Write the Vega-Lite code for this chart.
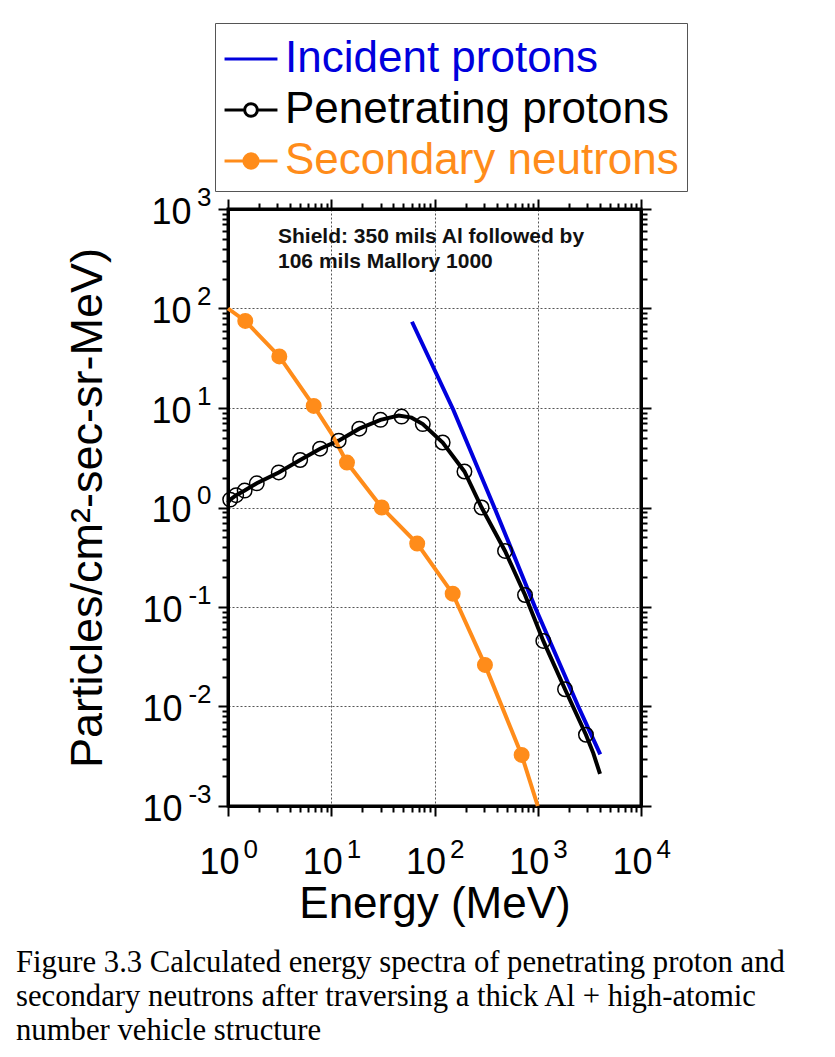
{
  "$schema": "https://vega.github.io/schema/vega-lite/v6.json",
  "width": 413,
  "height": 597,
  "padding": {"left": 16, "top": 22, "right": 10, "bottom": 10},
  "background": "white",
  "config": {
    "view": {"stroke": "black", "strokeWidth": 3},
    "font": "Liberation Sans",
    "axis": {
      "domainColor": "black",
      "domainWidth": 3,
      "tickColor": "black",
      "tickWidth": 2,
      "labelColor": "black",
      "titleColor": "black",
      "labelFont": "Liberation Sans",
      "titleFont": "Liberation Sans",
      "titleFontWeight": "normal",
      "labelFlush": false,
      "labelBound": false,
      "labelOverlap": false
    }
  },
  "datasets": {
    "curves": [
      {"series": "Incident protons", "energy": 60.5, "flux": 73.6},
      {"series": "Incident protons", "energy": 152, "flux": 9.6},
      {"series": "Incident protons", "energy": 380, "flux": 1.0},
      {"series": "Incident protons", "energy": 940, "flux": 0.1},
      {"series": "Incident protons", "energy": 2470, "flux": 0.01},
      {"series": "Incident protons", "energy": 4030, "flux": 0.0033},
      {"series": "Penetrating protons", "energy": 1.0, "flux": 1.12},
      {"series": "Penetrating protons", "energy": 1.05, "flux": 1.2},
      {"series": "Penetrating protons", "energy": 1.2, "flux": 1.33},
      {"series": "Penetrating protons", "energy": 1.45, "flux": 1.48},
      {"series": "Penetrating protons", "energy": 1.9, "flux": 1.75},
      {"series": "Penetrating protons", "energy": 3.1, "flux": 2.25},
      {"series": "Penetrating protons", "energy": 5.0, "flux": 3.0},
      {"series": "Penetrating protons", "energy": 7.8, "flux": 3.9},
      {"series": "Penetrating protons", "energy": 11.8, "flux": 4.7},
      {"series": "Penetrating protons", "energy": 18.7, "flux": 6.2},
      {"series": "Penetrating protons", "energy": 30, "flux": 7.6},
      {"series": "Penetrating protons", "energy": 45, "flux": 8.4},
      {"series": "Penetrating protons", "energy": 60, "flux": 8.0},
      {"series": "Penetrating protons", "energy": 77, "flux": 6.9},
      {"series": "Penetrating protons", "energy": 120, "flux": 4.5},
      {"series": "Penetrating protons", "energy": 195, "flux": 2.3},
      {"series": "Penetrating protons", "energy": 286, "flux": 1.0},
      {"series": "Penetrating protons", "energy": 482, "flux": 0.366},
      {"series": "Penetrating protons", "energy": 753, "flux": 0.132},
      {"series": "Penetrating protons", "energy": 1132, "flux": 0.0456},
      {"series": "Penetrating protons", "energy": 1837, "flux": 0.0149},
      {"series": "Penetrating protons", "energy": 2930, "flux": 0.0052},
      {"series": "Penetrating protons", "energy": 3450, "flux": 0.0034},
      {"series": "Penetrating protons", "energy": 4010, "flux": 0.0021},
      {"series": "Secondary neutrons", "energy": 1.0, "flux": 100},
      {"series": "Secondary neutrons", "energy": 1.47, "flux": 75},
      {"series": "Secondary neutrons", "energy": 3.14, "flux": 33},
      {"series": "Secondary neutrons", "energy": 6.76, "flux": 10.5},
      {"series": "Secondary neutrons", "energy": 10, "flux": 5.6},
      {"series": "Secondary neutrons", "energy": 14.2, "flux": 2.83},
      {"series": "Secondary neutrons", "energy": 30.8, "flux": 1.0},
      {"series": "Secondary neutrons", "energy": 68, "flux": 0.434},
      {"series": "Secondary neutrons", "energy": 150, "flux": 0.136},
      {"series": "Secondary neutrons", "energy": 308, "flux": 0.0262},
      {"series": "Secondary neutrons", "energy": 698, "flux": 0.00326},
      {"series": "Secondary neutrons", "energy": 1000, "flux": 0.001}
    ],
    "markers": [
      {"series": "Penetrating protons", "energy": 1.05, "flux": 1.2},
      {"series": "Penetrating protons", "energy": 1.2, "flux": 1.33},
      {"series": "Penetrating protons", "energy": 1.45, "flux": 1.48},
      {"series": "Penetrating protons", "energy": 1.9, "flux": 1.75},
      {"series": "Penetrating protons", "energy": 3.1, "flux": 2.25},
      {"series": "Penetrating protons", "energy": 5.0, "flux": 3.0},
      {"series": "Penetrating protons", "energy": 7.8, "flux": 3.9},
      {"series": "Penetrating protons", "energy": 11.8, "flux": 4.7},
      {"series": "Penetrating protons", "energy": 18.7, "flux": 6.2},
      {"series": "Penetrating protons", "energy": 30, "flux": 7.6},
      {"series": "Penetrating protons", "energy": 48, "flux": 8.2},
      {"series": "Penetrating protons", "energy": 77, "flux": 6.9},
      {"series": "Penetrating protons", "energy": 120, "flux": 4.5},
      {"series": "Penetrating protons", "energy": 195, "flux": 2.3},
      {"series": "Penetrating protons", "energy": 286, "flux": 1.0},
      {"series": "Penetrating protons", "energy": 482, "flux": 0.366},
      {"series": "Penetrating protons", "energy": 753, "flux": 0.132},
      {"series": "Penetrating protons", "energy": 1132, "flux": 0.0456},
      {"series": "Penetrating protons", "energy": 1837, "flux": 0.0149},
      {"series": "Penetrating protons", "energy": 2930, "flux": 0.0052},
      {"series": "Secondary neutrons", "energy": 1.47, "flux": 75},
      {"series": "Secondary neutrons", "energy": 3.14, "flux": 33},
      {"series": "Secondary neutrons", "energy": 6.76, "flux": 10.5},
      {"series": "Secondary neutrons", "energy": 14.2, "flux": 2.83},
      {"series": "Secondary neutrons", "energy": 30.8, "flux": 1.0},
      {"series": "Secondary neutrons", "energy": 68, "flux": 0.434},
      {"series": "Secondary neutrons", "energy": 150, "flux": 0.136},
      {"series": "Secondary neutrons", "energy": 308, "flux": 0.0262},
      {"series": "Secondary neutrons", "energy": 698, "flux": 0.00326}
    ],
    "notes": [
      {"note": "Shield: 350 mils Al followed by\n106 mils Mallory 1000"}
    ]
  },
  "title": {
    "text": [
      "Figure 3.3 Calculated energy spectra of penetrating proton and",
      "secondary neutrons after traversing a thick Al + high-atomic",
      "number vehicle structure"
    ],
    "orient": "bottom",
    "anchor": "start",
    "frame": "group",
    "dx": -212,
    "offset": 22,
    "font": "Liberation Serif",
    "fontSize": 30.7,
    "fontWeight": "normal",
    "lineHeight": 34,
    "color": "black"
  },
  "layer": [
    {
      "data": {"name": "curves"},
      "mark": {"type": "line", "strokeWidth": 4, "interpolate": "linear"},
      "encoding": {
        "x": {
          "field": "energy",
          "type": "quantitative",
          "scale": {"type": "log", "domain": [1, 10000], "nice": false},
          "axis": {
            "orient": "bottom",
            "title": "Energy (MeV)",
            "titleFontSize": 44,
            "titlePadding": 2,
            "values": [1, 2, 3, 4, 5, 6, 7, 8, 9, 10, 20, 30, 40, 50, 60, 70, 80, 90, 100, 200, 300, 400, 500, 600, 700, 800, 900, 1000, 2000, 3000, 4000, 5000, 6000, 7000, 8000, 9000, 10000],
            "labelExpr": "abs(log(datum.value)/LN10 - round(log(datum.value)/LN10)) < 0.01 ? '10' : ''",
            "labelFontSize": 36,
            "labelAlign": "right",
            "labelBaseline": "top",
            "labelOffset": 11,
            "labelPadding": 29,
            "tickSize": {"condition": {"test": "abs(log(datum.value)/LN10 - round(log(datum.value)/LN10)) < 0.01", "value": 10}, "value": 6},
            "grid": true,
            "gridDash": [2, 2],
            "gridColor": "#555555",
            "gridWidth": 1,
            "gridOpacity": {"condition": {"test": "abs(log(datum.value)/LN10 - round(log(datum.value)/LN10)) < 0.01", "value": 1}, "value": 0}
          }
        },
        "y": {
          "field": "flux",
          "type": "quantitative",
          "scale": {"type": "log", "domain": [0.001, 1000], "nice": false},
          "axis": {
            "orient": "left",
            "title": "Particles/cm²-sec-sr-MeV)",
            "titleFontSize": 45,
            "titlePadding": 31,
            "values": [0.001, 0.002, 0.003, 0.004, 0.005, 0.006, 0.007, 0.008, 0.009, 0.01, 0.02, 0.03, 0.04, 0.05, 0.06, 0.07, 0.08, 0.09, 0.1, 0.2, 0.3, 0.4, 0.5, 0.6, 0.7, 0.8, 0.9, 1, 2, 3, 4, 5, 6, 7, 8, 9, 10, 20, 30, 40, 50, 60, 70, 80, 90, 100, 200, 300, 400, 500, 600, 700, 800, 900, 1000],
            "labelExpr": "abs(log(datum.value)/LN10 - round(log(datum.value)/LN10)) < 0.01 ? '10' : ''",
            "labelFontSize": 36,
            "labelAlign": "right",
            "labelBaseline": "middle",
            "labelOffset": 3,
            "labelPadding": {"condition": {"test": "datum.value < 0.5", "value": 36}, "value": 27},
            "tickSize": {"condition": {"test": "abs(log(datum.value)/LN10 - round(log(datum.value)/LN10)) < 0.01", "value": 10}, "value": 6},
            "grid": true,
            "gridDash": [2, 2],
            "gridColor": "#555555",
            "gridWidth": 1,
            "gridOpacity": {"condition": {"test": "abs(log(datum.value)/LN10 - round(log(datum.value)/LN10)) < 0.01", "value": 1}, "value": 0}
          }
        },
        "color": {
          "field": "series",
          "type": "nominal",
          "scale": {
            "domain": ["Incident protons", "Penetrating protons", "Secondary neutrons"],
            "range": ["#0000dd", "#000000", "#ff8c1a"]
          },
          "legend": {
            "orient": "none",
            "legendX": -13,
            "legendY": -186,
            "title": null,
            "labelFont": "Liberation Sans",
            "labelFontSize": 44,
            "labelLimit": 600,
            "labelOffset": 6,
            "labelColor": {"expr": "datum.value == 'Incident protons' ? '#0000dd' : (datum.value == 'Secondary neutrons' ? '#ff8c1a' : '#000000')"},
            "symbolType": {"expr": "datum.value == 'Incident protons' ? 'M-1,0H1' : (datum.value == 'Penetrating protons' ? 'M-1,0H-0.24M0.24,0H1M-0.24,0A0.24,0.24,0,1,0,0.24,0A0.24,0.24,0,1,0,-0.24,0' : 'M-1,0H1M-0.27,0A0.27,0.27,0,1,0,0.27,0A0.27,0.27,0,1,0,-0.27,0')"},
            "symbolFillColor": {"expr": "datum.value == 'Secondary neutrons' ? '#ff8c1a' : 'transparent'"},
            "symbolSize": 2800,
            "symbolStrokeWidth": 3,
            "rowPadding": 1,
            "padding": 8,
            "strokeColor": "#555555",
            "fillColor": "white"
          }
        }
      }
    },
    {
      "data": {"name": "markers"},
      "mark": {"type": "point", "shape": "circle", "size": 210, "strokeWidth": 1.5, "filled": false, "opacity": 1},
      "encoding": {
        "x": {
          "field": "energy",
          "type": "quantitative",
          "scale": {"type": "log", "domain": [1, 10000], "nice": false},
          "axis": {
            "orient": "bottom",
            "title": null,
            "values": [1, 10, 100, 1000, 10000],
            "labelExpr": "'' + round(log(datum.value)/LN10)",
            "labelFontSize": 26,
            "labelAlign": "left",
            "labelBaseline": "top",
            "labelOffset": 15,
            "labelPadding": 30,
            "ticks": false,
            "tickSize": 0,
            "domain": false,
            "grid": false
          }
        },
        "y": {
          "field": "flux",
          "type": "quantitative",
          "scale": {"type": "log", "domain": [0.001, 1000], "nice": false},
          "axis": {
            "orient": "left",
            "title": null,
            "values": [0.001, 0.01, 0.1, 1, 10, 100, 1000],
            "labelExpr": "'' + round(log(datum.value)/LN10)",
            "labelFontSize": 26,
            "labelAlign": "right",
            "labelBaseline": "middle",
            "labelOffset": -12,
            "labelPadding": 17,
            "ticks": false,
            "tickSize": 0,
            "domain": false,
            "grid": false
          }
        },
        "color": {
          "field": "series",
          "type": "nominal",
          "scale": {
            "domain": ["Incident protons", "Penetrating protons", "Secondary neutrons"],
            "range": ["#0000dd", "#000000", "#ff8c1a"]
          },
          "legend": null
        },
        "fill": {
          "field": "series",
          "type": "nominal",
          "scale": {
            "domain": ["Incident protons", "Penetrating protons", "Secondary neutrons"],
            "range": ["transparent", "transparent", "#ff8c1a"]
          },
          "legend": null
        }
      }
    },
    {
      "data": {"name": "notes"},
      "mark": {"type": "text", "align": "left", "baseline": "alphabetic", "font": "Liberation Sans", "fontSize": 21, "fontWeight": "bold", "lineBreak": "\n", "lineHeight": 25, "color": "#111111"},
      "encoding": {
        "x": {
          "datum": 3.05,
          "type": "quantitative",
          "scale": {"type": "log", "domain": [1, 10000], "nice": false},
          "axis": {
            "orient": "top",
            "title": null,
            "labels": false,
            "values": [1, 2, 3, 4, 5, 6, 7, 8, 9, 10, 20, 30, 40, 50, 60, 70, 80, 90, 100, 200, 300, 400, 500, 600, 700, 800, 900, 1000, 2000, 3000, 4000, 5000, 6000, 7000, 8000, 9000, 10000],
            "tickSize": {"condition": {"test": "abs(log(datum.value)/LN10 - round(log(datum.value)/LN10)) < 0.01", "value": 10}, "value": 6},
            "grid": false
          }
        },
        "y": {
          "datum": 458,
          "type": "quantitative",
          "scale": {"type": "log", "domain": [0.001, 1000], "nice": false},
          "axis": {
            "orient": "right",
            "title": null,
            "labels": false,
            "values": [0.001, 0.002, 0.003, 0.004, 0.005, 0.006, 0.007, 0.008, 0.009, 0.01, 0.02, 0.03, 0.04, 0.05, 0.06, 0.07, 0.08, 0.09, 0.1, 0.2, 0.3, 0.4, 0.5, 0.6, 0.7, 0.8, 0.9, 1, 2, 3, 4, 5, 6, 7, 8, 9, 10, 20, 30, 40, 50, 60, 70, 80, 90, 100, 200, 300, 400, 500, 600, 700, 800, 900, 1000],
            "tickSize": {"condition": {"test": "abs(log(datum.value)/LN10 - round(log(datum.value)/LN10)) < 0.01", "value": 10}, "value": 6},
            "grid": false
          }
        },
        "text": {"field": "note"}
      }
    }
  ],
  "resolve": {"axis": {"x": "independent", "y": "independent"}}
}
